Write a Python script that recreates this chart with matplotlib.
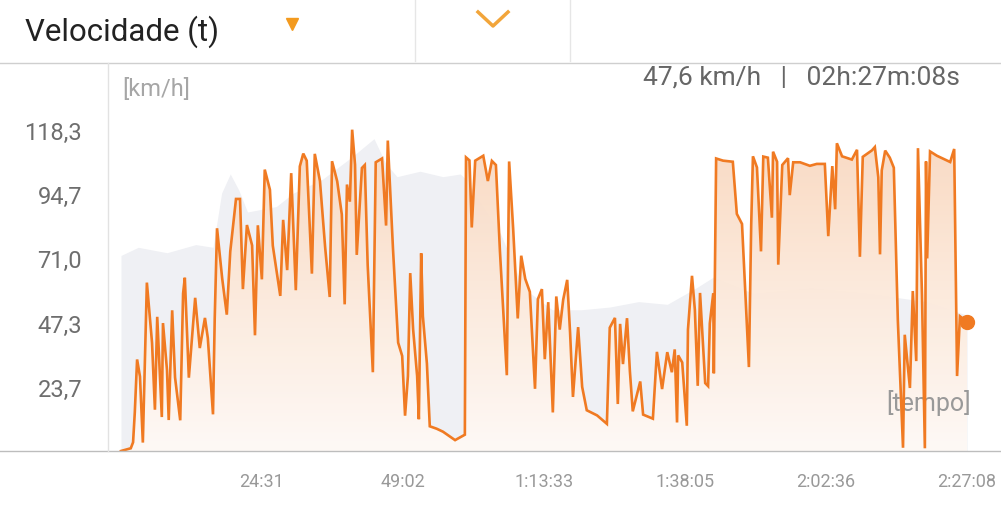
import matplotlib
matplotlib.use("Agg")
import matplotlib.pyplot as plt, numpy as np
from matplotlib.colors import LinearSegmentedColormap
from matplotlib.lines import Line2D
from matplotlib.patches import Polygon

plt.rcParams['font.family'] = ['Roboto', 'DejaVu Sans']

# speed trace: time in minutes, speed in km/h
tempo = [0, 1.7, 2.1, 2.4, 2.8, 3.3, 3.8, 4.5, 5.4, 5.9, 6.3, 7.1, 7.3, 8.0, 8.3, 8.9, 9.4,
         10.3, 10.8, 11.1, 11.8, 12.9, 13.7, 14.6, 15.1, 16.0, 16.3, 16.7, 17.6, 18.4, 19.0,
         20.0, 20.7, 21.2, 21.9, 22.8, 23.3, 23.8, 24.5, 25.0, 25.9, 26.4, 27.7, 28.2, 28.9,
         29.6, 30.4, 31.1, 31.7, 32.3, 33.2, 33.7, 34.6, 35.5, 36.3, 36.7, 37.6, 38.4, 38.9,
         39.3, 39.8, 40.2, 40.7, 41.0, 41.9, 42.4, 42.9, 43.8, 44.3, 45.4, 46.1, 46.4, 47.3,
         48.2, 48.9, 49.4, 49.9, 50.3, 50.8, 51.5, 51.8, 52.2, 52.5, 53.2, 53.7, 54.9, 56.0,
         58.1, 59.8, 60.0, 60.6, 61.0, 61.6, 63.0, 63.8, 64.5, 65.2, 65.9, 66.8, 67.1, 67.5,
         68.2, 69.0, 69.6, 70.3, 71.1, 72.0, 72.5, 73.2, 73.7, 74.3, 75.1, 75.7, 76.3, 76.9,
         77.6, 78.1, 78.6, 79.5, 80.2, 81.0, 82.8, 84.5, 85.0, 85.9, 86.4, 86.8, 87.3, 88.0,
         88.5, 89.0, 90.3, 90.8, 92.5, 93.2, 94.1, 95.0, 95.8, 96.3, 96.7, 96.9, 97.6, 98.4,
         98.6, 99.3, 99.8, 100.3, 100.7, 101.6, 102.1, 102.4, 103.0, 103.1, 103.5, 104.7,
         106.4, 107.1, 108.0, 108.9, 109.2, 109.6, 109.9, 110.6, 111.3, 111.7, 112.5, 113.2,
         113.4, 114.1, 114.3, 115.0, 116.0, 116.3, 116.9, 118.1, 119.8, 121.0, 122.4, 123.0,
         123.7, 124.2, 124.5, 125.4, 127.1, 128.0, 128.5, 129.0, 130.6, 131.1, 131.7, 132.0,
         132.3, 132.9, 133.7, 134.4, 135.1, 136.0, 136.3, 137.2, 137.7, 138.3, 138.6, 139.3,
         139.8, 140.0, 140.2, 140.7, 141.9, 143.0, 144.2, 144.9, 145.4, 145.9, 147.13]
velocidade = [0, 1, 3.2, 14.2, 33.7, 27.4, 3.1, 62, 39.8, 15.2, 49.4, 12.5, 47.1, 29.8, 11.4,
              51.8, 27.1, 11.3, 58, 63.8, 27, 56.4, 37.9, 49, 41.6, 13.5, 48.8, 82, 63.5, 50.2,
              73.4, 92.8, 92.8, 59.6, 83.2, 75.7, 42.6, 83.1, 63.2, 103.6, 96.2, 75.6, 57.1,
              85.1, 66.6, 102.3, 59.2, 104.8, 109.5, 106.9, 65.3, 109.4, 99.4, 75.1, 56.7,
              106.7, 99.3, 87.1, 54, 98.1, 91.8, 118.3, 105.4, 72.2, 104.2, 105.3, 68.5, 29,
              106.3, 107.7, 83, 114.3, 74.5, 39.9, 35, 13, 27.6, 65.5, 44.9, 27.6, 11.7, 72.8,
              49.6, 32.2, 9.1, 8.2, 7.1, 4, 6, 108.1, 107, 82.3, 106.9, 108.7, 99.4, 106.8,
              105.3, 73.6, 38.9, 27.9, 106.6, 81.9, 48.8, 71.9, 63.4, 58.6, 22.9, 55.9, 59.6,
              33.8, 54.8, 14.2, 56.9, 44.7, 55.7, 63, 43.5, 19.9, 45.6, 23.6, 15, 13.1, 10,
              45.4, 49, 17.3, 46.8, 32, 48.9, 29.4, 14.6, 25.6, 13.4, 11.9, 36.5, 22.8, 36.4,
              29, 37.4, 10.5, 35.2, 32.6, 9.3, 44.7, 64.5, 52, 24, 58.2, 25, 23.9, 47, 58.1,
              28.6, 107.7, 106.9, 106.5, 87.3, 83.6, 44.2, 30.9, 83.5, 108.5, 104.4, 73.5,
              108.4, 108, 85.9, 110.2, 106.5, 68.6, 105.3, 107.8, 94.2, 106.3, 106.3, 105,
              105.7, 105.7, 79.1, 104.9, 89, 113.3, 108.5, 107.3, 110.9, 71.5, 108.3, 110.7,
              111.9, 100.8, 72.4, 103.3, 110.6, 108, 104.3, 48, 1.2, 42.8, 23.2, 58.9, 33.1,
              111.5, 57.3, 1, 106.6, 70.9, 110.3, 108.7, 107.6, 106.4, 111.2, 27.6, 49.6, 47.6]

# faint grey reference profile behind the trace
tempo_ref = [0, 3, 8, 13, 16, 17.5, 19, 20.5, 22, 27, 30, 35, 40, 44, 46, 48, 52, 56, 59, 60,
             66, 70, 75, 80, 85, 90, 95, 100, 103, 110, 120, 130, 140, 147.13]
vel_ref = [72, 75, 73, 76, 75, 95, 102, 96, 88, 90, 95, 100, 108, 115, 106, 101, 103, 101, 102,
           100, 80, 60, 52, 52, 53, 55, 54, 60, 64, 58, 60, 58, 55, 50]

yticks = [23.7, 47.3, 71.0, 94.7, 118.3]
ylabels = ['23,7', '47,3', '71,0', '94,7', '118,3']
xticks = [24.517, 49.033, 73.55, 98.083, 122.6, 147.133]
xlabels = ['24:31', '49:02', '1:13:33', '1:38:05', '2:02:36', '2:27:08']

W, H = 1001, 506
fig = plt.figure(figsize=(W / 100, H / 100), dpi=100)
fx = lambda px: px / W
fy = lambda py: 1 - py / H

ax = fig.add_axes([fx(108), fy(452), fx(1001 - 108), (452 - 100) / H])
t = np.array(tempo)
v = np.array(velocidade)

ax.fill_between(tempo_ref, vel_ref, color='#eff0f4', lw=0, zorder=1)

verts = np.column_stack([np.r_[t, t[::-1]], np.r_[v, np.zeros_like(v)]])
poly = Polygon(verts, closed=True, facecolor='none', edgecolor='none')
ax.add_patch(poly)
cmap = LinearSegmentedColormap.from_list('lar', ['#fffaf6', '#f9d8bf'])
im = ax.imshow(np.linspace(0, 1, 256).reshape(-1, 1), cmap=cmap, origin='lower',
               extent=[t[0], t[-1], 0, 118.3], aspect='auto', alpha=0.95, zorder=2)
im.set_clip_path(poly)

ax.plot(t, v, color='#f07a22', lw=1.9, zorder=4, solid_joinstyle='miter')
ax.plot(t[-1], v[-1], 'o', ms=10, color='#f07a22', zorder=5)

ax.set_xlim(-2.26, 153.04)
ax.set_ylim(0, 129.6)
ax.set_yticks(yticks, ylabels)
ax.set_xticks(xticks, xlabels)
ax.tick_params(axis='y', length=0, pad=18.7, labelsize=17, labelcolor='#6e6e6e')
ax.tick_params(axis='x', length=0, pad=15, labelsize=13, labelcolor='#999999')
for s in ax.spines.values():
    s.set_visible(False)
ax.text(0.966, 0.14, '[tempo]', transform=ax.transAxes, ha='right', va='center',
        fontsize=18, color='#999999')

# header and frame lines
fig.add_artist(Line2D([0, 1], [fy(64), fy(64)], color='#cfcfcf', lw=1))
fig.add_artist(Line2D([0, 1], [fy(452), fy(452)], color='#bdbdbd', lw=1))
fig.add_artist(Line2D([fx(108), fx(108)], [fy(64), fy(452)], color='#e2e2e2', lw=1))
for xd in [415, 570]:
    fig.add_artist(Line2D([fx(xd), fx(xd)], [fy(0), fy(62)], color='#e6e6e6', lw=1))

fig.text(fx(25), fy(32), 'Velocidade (t)', fontsize=22.5, color='#222222', va='center')
fig.add_artist(Line2D([fx(292)], [fy(25)], marker='v', ms=9, color='#f39a1e', lw=0))
fig.add_artist(Line2D([fx(478), fx(493), fx(508)], [fy(13), fy(27), fy(13)],
                      color='#f2a53a', lw=2.5))
fig.text(fx(122), fy(90), '[km/h]', fontsize=17, color='#a6a6a6', va='center')
fig.text(fx(960), fy(77), '47,6 km/h   |   02h:27m:08s', fontsize=19, color='#666666',
         ha='right', va='center')

fig.savefig('out.png', dpi=100, facecolor='white')
